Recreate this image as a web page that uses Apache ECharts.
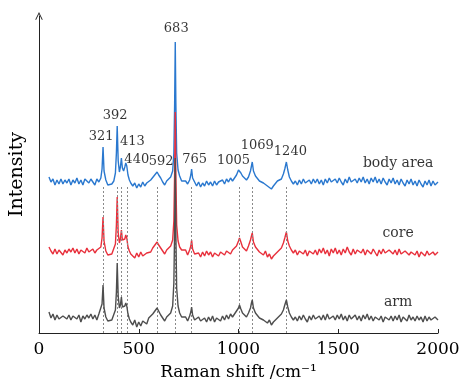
<!DOCTYPE html>
<html><head><meta charset="utf-8">
<script src="https://cdn.jsdelivr.net/npm/echarts@6/dist/echarts.min.js"></script>
<style>html,body{margin:0;padding:0;background:#fff}#c{width:460px;height:382px}</style>
</head><body><div id="c"></div>
<script>
// Raman shift sampling points (cm^-1)
const ramanShift = [
  50,60,70,80,90,100,110,120,130,140,
  150,160,170,180,190,200,210,220,230,240,
  250,260,270,280,290,300,310,316,321,326,
  335,345,355,365,375,383,388,392,397,403,
  408,413,418,424,430,435,440,446,453,460,
  470,480,490,500,510,520,530,540,550,560,
  570,580,592,600,610,620,630,640,650,660,
  670,676,680,683,686,690,697,705,715,725,
  735,745,755,761,765,770,780,790,800,810,
  820,830,840,850,860,870,880,890,900,910,
  920,930,940,950,960,970,980,990,1000,1005,
  1012,1020,1030,1040,1050,1060,1065,1069,1075,1085,
  1095,1105,1115,1125,1135,1145,1155,1165,1175,1185,
  1195,1205,1215,1225,1232,1240,1247,1255,1265,1275,
  1285,1295,1305,1315,1325,1335,1345,1355,1365,1375,
  1385,1395,1405,1415,1425,1435,1445,1455,1465,1475,
  1485,1495,1505,1515,1525,1535,1545,1555,1565,1575,
  1585,1595,1605,1615,1625,1635,1645,1655,1665,1675,
  1685,1695,1705,1715,1725,1735,1745,1755,1765,1775,
  1785,1795,1805,1815,1825,1835,1845,1855,1865,1875,
  1885,1895,1905,1915,1925,1935,1945,1955,1965,1975,
  1985,2000
];
// Intensities (relative to each spectrum's own baseline)
const bodyArea = [
  6,1,4,-2,3,-1,4,-1,3,0,
  4,-2,3,0,5,-1,3,-2,4,2,
  0,4,1,-2,4,1,5,14,36,12,
  3,-2,-4,-1,2,10,30,57,22,11,
  16,25,15,12,16,20,17,8,3,0,
  -3,0,-5,-1,-4,1,-3,0,-2,3,
  4,8,11,8,5,1,-2,2,3,6,
  12,30,80,141,80,30,13,7,2,0,
  2,-1,3,8,14,5,1,-3,1,-4,
  0,-3,2,-2,1,-3,2,-2,1,-1,
  3,-1,4,1,5,2,5,8,13,15,
  10,7,5,3,6,12,17,21,12,7,
  5,2,3,0,1,-3,-2,-6,-3,-1,
  2,1,4,9,14,21,13,6,2,-1,
  2,-2,3,-1,4,0,-2,3,-1,4,
  0,4,-1,3,-2,4,0,5,1,-1,
  4,0,5,1,-2,4,0,6,1,-1,
  4,0,5,1,6,0,4,-1,5,1,
  6,0,4,-1,5,1,-2,4,0,5,
  -1,3,-2,4,0,-3,3,-1,4,-2,
  2,-3,3,-1,-4,2,-2,3,-3,2,
  -2,1
];
const core = [
  6,2,-1,4,-1,3,4,-2,3,0,
  4,1,5,0,4,-1,3,4,0,5,
  1,-1,4,0,3,5,6,15,36,12,
  2,-2,-3,-1,1,9,28,56,20,10,
  14,23,13,11,14,18,15,6,2,-1,
  -2,-5,0,-4,1,-3,-5,0,2,1,
  5,7,11,8,6,2,-1,3,4,7,
  13,32,82,141,78,28,12,6,3,1,
  3,-2,3,7,13,4,-1,-3,0,-4,
  1,-3,2,-2,1,-4,0,2,-3,1,
  3,-2,2,4,-1,3,4,7,12,15,
  11,6,4,2,7,13,17,20,11,6,
  5,1,2,-2,2,-4,-1,-6,-3,-1,
  1,3,5,10,15,21,12,7,3,0,
  3,-2,2,4,-1,3,-3,2,4,-1,
  3,-2,4,0,5,-1,3,-3,4,0,
  5,-1,3,-2,4,0,6,1,-2,4,
  -1,3,5,0,4,-2,3,5,-1,4,
  2,-3,3,-1,4,0,-2,3,5,-1,
  3,-2,4,-1,-3,2,4,-2,1,3,
  -2,2,-4,1,3,-3,2,-2,-4,1,
  -2,1
];
const arm = [
  6,0,4,-2,3,-1,-3,2,4,-1,
  3,-2,2,4,-1,3,-4,2,-1,3,
  0,4,-1,3,-2,4,5,14,33,10,
  1,-3,-4,-2,0,8,26,55,22,10,
  13,21,11,9,12,15,12,4,-1,-4,
  -7,-2,-9,-4,-8,-3,-1,-6,0,2,
  4,6,10,8,3,0,-3,1,3,5,
  12,35,90,160,85,30,12,5,1,-1,
  1,-3,2,6,11,3,-2,-4,1,-3,
  -5,0,-4,1,-3,2,-4,0,1,-3,
  2,-2,3,-1,4,1,4,6,10,13,
  9,5,3,1,5,10,15,18,10,5,
  4,0,0,-2,-1,-5,-2,-7,-4,-2,
  0,2,4,8,13,18,11,5,1,-2,
  1,-3,2,-2,3,-1,-4,2,-2,3,
  -1,-3,2,-2,3,-2,4,-1,-3,2,
  -2,3,-1,4,-2,2,-3,3,-1,-2,
  3,-2,2,-3,3,-1,4,-2,2,-3,
  1,3,-2,2,-4,1,3,-2,2,-3,
  2,-2,3,-4,1,2,-3,3,-2,1,
  -3,2,-2,1,-4,2,-3,1,-2,-4,
  1,-2
];
const peakPositions = [321,392,413,440,592,683,765,1005,1069,1240];
const peakLabels = ['321','392','413','440','592','683','765','1005','1069','1240'];
const seriesNames = ['body area','core','arm'];
const seriesOffsets = [150, 80, 15];   // vertical stacking offset of each spectrum
const xTicks = [0,500,1000,1500,2000];

// ---- styles / layout ----
const FONT = 'DejaVu Serif';
const TEXT = '#000';
const colors = ['#2a78cf', '#e8303c', '#4e4e4e'];
const labelOffsets = [[-2,-10],[-2,-10],[11,-16],[10,-6],[4,-10],[1,-13],[3,-9],[-6,-7],[5,-16],[4,-10]];
const nameLabelX = 1800;
const nameLabelRise = [20, 20, 16];

const spectra = [bodyArea, core, arm];
if (spectra.some(s => s.length !== ramanShift.length)) console.error('length mismatch', spectra.map(s=>s.length), ramanShift.length);

const chart = echarts.init(document.getElementById('c'), null, {renderer: 'canvas'});

const lineSeries = spectra.map((vals, k) => ({
  name: seriesNames[k],
  type: 'line',
  data: ramanShift.map((x, i) => [x, vals[i] + seriesOffsets[k]]),
  symbol: 'none',
  lineStyle: {color: colors[k], width: 1.4},
  z: 3 + k,
  silent: true
}));

const peakSeries = {
  type: 'scatter',
  symbolSize: 1,
  itemStyle: {color: 'rgba(0,0,0,0)'},
  z: 10,
  silent: true,
  data: peakPositions.map((p, i) => {
    const idx = ramanShift.indexOf(p);
    return {value: [p, bodyArea[idx] + seriesOffsets[0]], label: {offset: labelOffsets[i]}};
  }),
  label: {
    show: true, position: 'inside',
    formatter: (pr) => peakLabels[pr.dataIndex],
    fontFamily: FONT, fontSize: 13, color: TEXT
  }
};

const nameSeries = {
  type: 'scatter',
  symbolSize: 1,
  itemStyle: {color: 'rgba(0,0,0,0)'},
  z: 10,
  silent: true,
  data: seriesNames.map((n, k) => [nameLabelX, seriesOffsets[k] + nameLabelRise[k]]),
  label: {
    show: true, position: 'inside',
    formatter: (pr) => seriesNames[pr.dataIndex],
    fontFamily: FONT, fontSize: 14, color: TEXT
  }
};

const guideSeries = {
  type: 'line',
  data: [],
  z: 1,
  silent: true,
  markLine: {
    silent: true,
    symbol: ['none', 'none'],
    label: {show: false},
    lineStyle: {color: '#8a8a8a', type: [2, 2], width: 1},
    data: peakPositions.map(p => [{coord: [p, 0]}, {coord: [p, seriesOffsets[0] - 4]}])
  }
};

chart.setOption({
  animation: false,
  backgroundColor: '#fff',
  grid: {left: 39, right: 22, top: 16, bottom: 49, containLabel: false, outerBoundsMode: 'none'},
  xAxis: {
    type: 'value', min: xTicks[0], max: xTicks[xTicks.length - 1], interval: 500,
    name: 'Raman shift /cm\u207B\u00B9', nameLocation: 'middle', nameGap: 31,
    nameTextStyle: {fontFamily: FONT, fontSize: 17, color: TEXT},
    axisLine: {lineStyle: {color: '#222', width: 1}},
    axisTick: {inside: true, length: 4, lineStyle: {color: '#222'}},
    axisLabel: {fontFamily: FONT, fontSize: 17, color: TEXT, margin: 8, formatter: (v) => String(v)},
    splitLine: {show: false}
  },
  yAxis: {
    type: 'value', min: 0, max: 317,
    name: 'Intensity', nameLocation: 'middle', nameGap: 12,
    nameTextStyle: {fontFamily: FONT, fontSize: 19, color: TEXT},
    axisLine: {show: true, symbol: ['none', 'path://M0,10 L5,0 L10,10 L9,10.8 L5,2.6 L1,10.8 Z'], symbolSize: [9, 8],
      lineStyle: {color: '#222', width: 1}},
    axisTick: {show: false},
    axisLabel: {show: false},
    splitLine: {show: false}
  },
  series: [guideSeries, ...lineSeries, peakSeries, nameSeries]
});
</script>
</body></html>
